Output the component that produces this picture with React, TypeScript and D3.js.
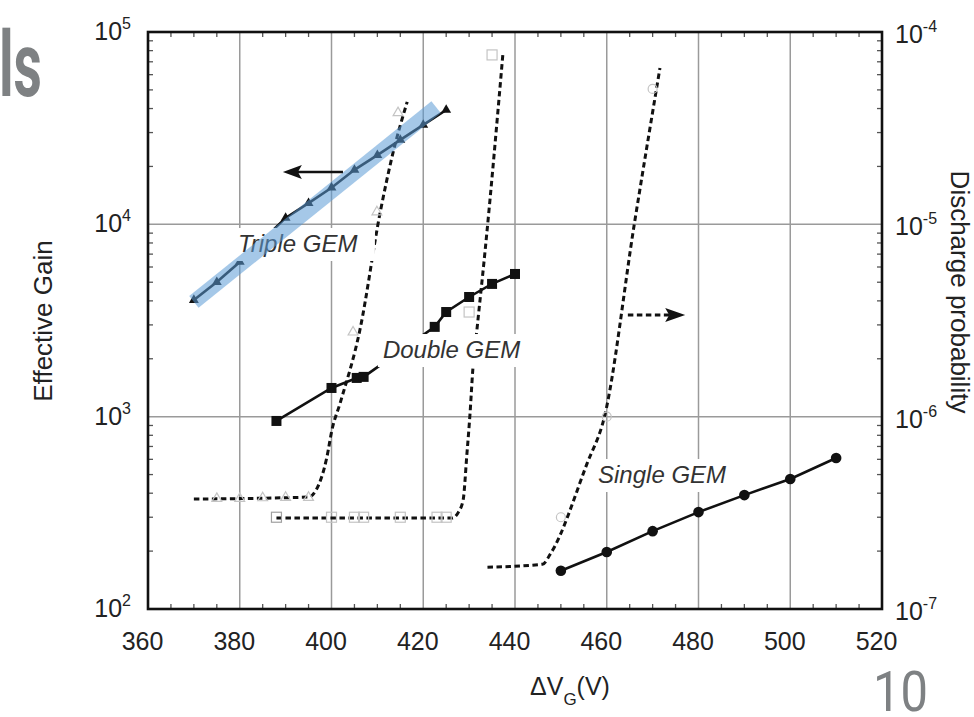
import React from "react";
import * as d3 from "d3";

const W = 974;
const H = 717;

// axis ticks
const xTicks = [360, 380, 400, 420, 440, 460, 480, 500, 520];
const gainExps = [2, 3, 4, 5];
const probExps = [-7, -6, -5, -4];

// Effective gain (left axis) – filled markers
const tripleV = [370, 375, 380, 390, 395, 400, 405, 410, 415, 420, 425];
const tripleGain = [4040, 5010, 6370, 10800, 12900, 15500, 19200, 22900, 27500, 32900, 39300];

const doubleV = [388, 400, 405.5, 407, 422.5, 425, 430, 435, 440];
const doubleGain = [950, 1410, 1590, 1610, 2930, 3500, 4190, 4900, 5520];

const singleV = [450, 460, 470, 480, 490, 500, 510];
const singleGain = [158, 198, 254, 319, 391, 474, 610];

// Discharge probability (right axis) – dashed fits
const tripleDischV = [370, 395, 396.5, 399, 400.1, 401.9, 406.2, 410.6, 413.4, 416.5];
const tripleDischP = [3.73e-7, 3.82e-7, 4.1e-7, 6.17e-7, 8.53e-7, 1.18e-6, 2.83e-6, 1.15e-5, 2.35e-5, 4.33e-5];

const doubleDischV = [388, 426.3, 427.7, 428.7, 429.5, 430.2, 430.8, 431.7, 433.5, 437.4];
const doubleDischP = [2.97e-7, 2.97e-7, 3.2e-7, 3.69e-7, 6.32e-7, 1.04e-6, 1.75e-6, 2.83e-6, 7.36e-6, 7.87e-5];

const singleDischV = [434, 446, 447.8, 455.7, 459.5, 466.0, 471.6];
const singleDischP = [1.65e-7, 1.71e-7, 1.95e-7, 5.7e-7, 1.0e-6, 1.0e-5, 6.5e-5];

// Discharge probability – open markers
const tripleOpenV = [375, 380, 385, 390, 395, 404.7, 409.9, 414.5];
const tripleOpenP = [3.75e-7, 3.75e-7, 3.78e-7, 3.8e-7, 3.8e-7, 2.75e-6, 1.16e-5, 3.8e-5];

const doubleOpenV = [388, 400, 405, 407, 415, 423, 425, 430, 435];
const doubleOpenP = [3.0e-7, 3.0e-7, 3.0e-7, 3.0e-7, 3.0e-7, 3.0e-7, 3.0e-7, 3.5e-6, 7.6e-5];

const singleOpenV = [450, 460, 470];
const singleOpenP = [3.0e-7, 1.0e-6, 5.06e-5];

// labels (anchored in data coordinates: voltage, gain)
const labelText = ["Triple GEM", "Double GEM", "Single GEM"];
const labelV = [379.6, 411.2, 458.1];
const labelGain = [7180, 2018, 452];

const FONT = "'Liberation Sans', Arial, Helvetica, sans-serif";
const SLIDE = "Roboto, 'Liberation Sans', sans-serif";

const zip = (a: number[], b: number[]): [number, number][] => a.map((v, i) => [v, b[i]]);

export default function App() {
  const x = d3.scaleLinear().domain([360, 520]).range([148, 882]);
  const yL = d3.scaleLog().domain([1e2, 1e5]).range([609, 32]);
  const yR = d3.scaleLog().domain([1e-7, 1e-4]).range([609, 32]);
  const [x0, x1] = x.range();
  const [yB, yT] = yL.range();

  const lineL = d3.line<[number, number]>().x((d) => x(d[0])).y((d) => yL(d[1]));
  const lineR = d3
    .line<[number, number]>()
    .x((d) => x(d[0]))
    .y((d) => yR(d[1]))
    .curve(d3.curveMonotoneX);

  const minorX = d3.range(360, 521, 5).filter((v) => v % 20 !== 0);
  const minorY = yL.ticks().filter((v) => Math.abs(Math.log10(v) - Math.round(Math.log10(v))) > 1e-6);

  const tri = d3.symbol().type(d3.symbolTriangle).size(42)()!;

  // band (highlight) endpoints
  const bandA: [number, number] = [370, 3950];
  const bandB: [number, number] = [422.8, 40700];

  // arrows
  const la = { from: 402.5, tip: 389.4, g: 18700 };
  const ra = { from: 464.6, tip: 477.1, p: 3.38e-6 };
  const laY = yL(la.g);
  const laTip = x(la.tip);
  const raY = yR(ra.p);
  const raTip = x(ra.tip);

  const labelBoxes = labelText.map((t, i) => {
    const lx = x(labelV[i]);
    const ly = yL(labelGain[i]);
    const w = t.length * 13.4;
    return { t, lx, ly, w };
  });

  return (
    <div style={{ position: "absolute", left: 0, top: 0 }}>
      <svg width={W} height={H} viewBox={`0 0 ${W} ${H}`} style={{ display: "block", background: "#fff" }}>
        {/* slide fragments */}
        <text x={-1} y={96} fontFamily={SLIDE} fontWeight="bold" fontSize={90} fill="#7e8183" textLength={43} lengthAdjust="spacingAndGlyphs">
          ls
        </text>
        <text x={873} y={711} fontFamily={SLIDE} fontSize={56} fill="#7e8183" textLength={55} lengthAdjust="spacingAndGlyphs">
          10
        </text>

        {/* grid */}
        <g stroke="#9a9a9a" strokeWidth={1.5}>
          {xTicks.slice(1, -1).map((v) => (
            <line key={"gx" + v} x1={x(v)} x2={x(v)} y1={yT} y2={yB} />
          ))}
          {gainExps.slice(1, -1).map((e) => (
            <line key={"gy" + e} x1={x0} x2={x1} y1={yL(Math.pow(10, e))} y2={yL(Math.pow(10, e))} />
          ))}
        </g>

        {/* minor ticks */}
        <g stroke="#555" strokeWidth={1.3}>
          {minorX.map((v) => (
            <g key={"mx" + v}>
              <line x1={x(v)} x2={x(v)} y1={yB} y2={yB - 5} />
              <line x1={x(v)} x2={x(v)} y1={yT} y2={yT + 5} />
            </g>
          ))}
          {minorY.map((v) => (
            <g key={"my" + v}>
              <line x1={x0} x2={x0 + 5} y1={yL(v)} y2={yL(v)} />
              <line x1={x1} x2={x1 - 5} y1={yL(v)} y2={yL(v)} />
            </g>
          ))}
        </g>

        {/* frame */}
        <rect x={x0} y={yT} width={x1 - x0} height={yB - yT} fill="none" stroke="#111" strokeWidth={2.6} />

        {/* dashed discharge probability curves */}
        <g fill="none" stroke="#111" strokeWidth={3} strokeDasharray="5.5,3.5">
          <path d={lineR(zip(tripleDischV, tripleDischP))!} />
          <path d={lineR(zip(doubleDischV, doubleDischP))!} />
          <path d={lineR(zip(singleDischV, singleDischP))!} />
        </g>

        {/* open markers */}
        <g fill="none" stroke="#c4c4c4" strokeWidth={1.2}>
          {tripleOpenV.map((v, i) => (
            <path key={"to" + i} d={tri} transform={`translate(${x(v)},${yR(tripleOpenP[i])})`} />
          ))}
          {doubleOpenV.map((v, i) => (
            <rect key={"do" + i} x={x(v) - 5} y={yR(doubleOpenP[i]) - 5} width={10} height={10} stroke={i === 0 ? "#a0a0a0" : "#c4c4c4"} />
          ))}
          {singleOpenV.map((v, i) => (
            <circle key={"so" + i} cx={x(v)} cy={yR(singleOpenP[i])} r={4.5} />
          ))}
        </g>

        {/* gain lines */}
        <g fill="none" stroke="#111" strokeWidth={2.6}>
          <path d={lineL(zip(tripleV, tripleGain))!} />
          <path d={lineL(zip(doubleV, doubleGain))!} />
          <path d={lineL(zip(singleV, singleGain))!} />
        </g>
        <g fill="#111">
          {tripleV.map((v, i) => (
            <path key={"t" + i} d={tri} transform={`translate(${x(v)},${yL(tripleGain[i])})`} />
          ))}
          {doubleV.map((v, i) => (
            <rect key={"d" + i} x={x(v) - 5} y={yL(doubleGain[i]) - 5} width={10} height={10} />
          ))}
          {singleV.map((v, i) => (
            <circle key={"s" + i} cx={x(v)} cy={yL(singleGain[i])} r={5.3} />
          ))}
        </g>

        {/* labels with white background */}
        {labelBoxes.map((b) => (
          <g key={b.t}>
            <rect x={b.lx - 5} y={b.ly - 24} width={b.w + 8} height={33} fill="#fff" />
            <text x={b.lx} y={b.ly} fontFamily={FONT} fontStyle="italic" fontSize={24} fill="#333">
              {b.t}
            </text>
          </g>
        ))}

        {/* blue highlight band */}
        <line
          x1={x(bandA[0])}
          y1={yL(bandA[1])}
          x2={x(bandB[0])}
          y2={yL(bandB[1])}
          stroke="#5b9bd5"
          strokeOpacity={0.55}
          strokeWidth={15}
          strokeLinecap="butt"
        />

        {/* arrows */}
        <line x1={x(la.from)} x2={laTip + 14} y1={laY} y2={laY} stroke="#111" strokeWidth={2.6} />
        <path d={`M${laTip},${laY} L${laTip + 19},${laY - 7} L${laTip + 15},${laY} L${laTip + 19},${laY + 7} Z`} fill="#111" />
        <line x1={x(ra.from)} x2={raTip - 16} y1={raY} y2={raY} stroke="#111" strokeWidth={3} strokeDasharray="5.5,3.5" />
        <path d={`M${raTip},${raY} L${raTip - 20},${raY - 7} L${raTip - 16},${raY} L${raTip - 20},${raY + 7} Z`} fill="#111" />

        {/* x tick labels */}
        <g fontFamily={FONT} fontSize={25} fill="#222" textAnchor="middle">
          {xTicks.map((v) => (
            <text key={"xl" + v} x={x(v) - 5.5} y={650}>
              {v}
            </text>
          ))}
        </g>

        {/* left tick labels */}
        <g fontFamily={FONT} fill="#222" textAnchor="end">
          {gainExps.map((e) => (
            <text key={"yl" + e} x={131} y={yL(Math.pow(10, e)) + 8} fontSize={25}>
              10
              <tspan fontSize={16} dy={-11}>
                {e}
              </tspan>
            </text>
          ))}
        </g>

        {/* right tick labels */}
        <g fontFamily={FONT} fill="#222" textAnchor="start">
          {probExps.map((e) => (
            <text key={"yr" + e} x={895} y={yR(Math.pow(10, e)) + 11} fontSize={25}>
              10
              <tspan fontSize={16} dy={-11}>
                {e}
              </tspan>
            </text>
          ))}
        </g>

        {/* axis titles */}
        <text transform="translate(52,321) rotate(-90)" fontFamily={FONT} fontSize={26} fill="#222" textAnchor="middle">
          Effective Gain
        </text>
        <text transform="translate(951,292) rotate(90)" fontFamily={FONT} fontSize={26} fill="#222" textAnchor="middle">
          Discharge probability
        </text>
        <text x={530} y={695} fontFamily={FONT} fontSize={25} fill="#222">
          ΔV
          <tspan fontSize={17} dy={10}>
            G
          </tspan>
          <tspan dy={-10}>(V)</tspan>
        </text>
      </svg>
    </div>
  );
}
